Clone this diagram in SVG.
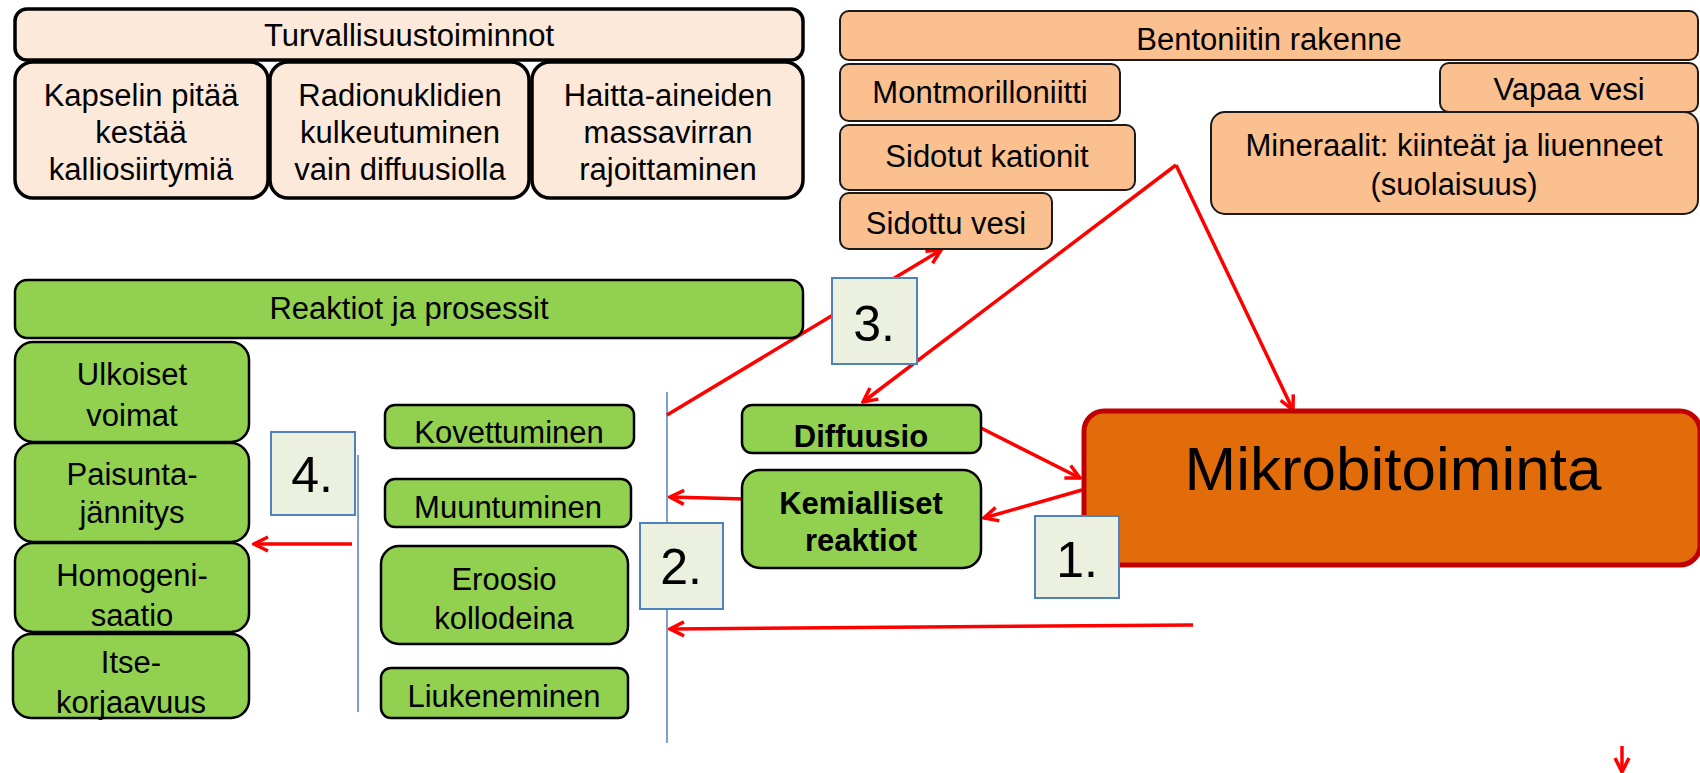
<svg xmlns="http://www.w3.org/2000/svg" width="1700" height="773" viewBox="0 0 1700 773">
<defs>
<style>
text{font-family:"Liberation Sans",Arial,sans-serif;fill:#000;text-anchor:middle}
.t{font-size:31px}
.b{font-size:31px;font-weight:bold}
.num{font-size:50px}
.big{font-size:62px}
.peach{fill:#FDE9D9;stroke:#000;stroke-width:3.5}
.tan{fill:#FAC090;stroke:#1a1a1a;stroke-width:2}
.grn{fill:#92D050;stroke:#000;stroke-width:2.5}
.nb{fill:#EBF1DE;stroke:#4F81BD;stroke-width:2}
.bl{stroke:#4F81BD;stroke-width:1.5;fill:none}
.ar{stroke:#FF0000;stroke-width:3.5;fill:none;marker-end:url(#ah)}
.ln{stroke:#FF0000;stroke-width:3.5;fill:none}
</style>
<marker id="ah" markerUnits="userSpaceOnUse" markerWidth="20" markerHeight="20" viewBox="0 0 20 20" refX="18" refY="10" orient="auto">
<path d="M4,3 L18,10 L4,17" fill="none" stroke="#FF0000" stroke-width="3.5"/>
</marker>
</defs>
<rect width="1700" height="773" fill="#fff"/>

<g id="blue-lines">
<line class="bl" x1="358" y1="455" x2="358" y2="712"/>
<line class="bl" x1="667" y1="392" x2="667" y2="743"/>
</g>

<g id="connectors">
<line class="ar" x1="1176" y1="165" x2="1293" y2="410"/>
<line class="ar" x1="1176" y1="165" x2="863" y2="402"/>
<line class="ar" x1="667" y1="415" x2="941" y2="250"/>
<line class="ar" x1="981" y1="428" x2="1080" y2="478"/>
<line class="ar" x1="1082" y1="490" x2="984" y2="518"/>
<line class="ar" x1="746" y1="499" x2="670" y2="497"/>
<line class="ar" x1="1193" y1="625" x2="670" y2="629"/>
<line class="ar" x1="352" y1="544" x2="254" y2="544"/>
<line class="ar" x1="1622" y1="746" x2="1622" y2="772"/>
</g>

<g id="turvallisuustoiminnot">
<rect class="peach" x="15" y="9" width="788" height="51" rx="12"/>
<text class="t" x="409" y="46">Turvallisuustoiminnot</text>
</g>
<g id="kapseli">
<rect class="peach" x="15" y="62" width="253" height="136" rx="18"/>
<text class="t" x="141" y="106">Kapselin pitää</text>
<text class="t" x="141" y="143">kestää</text>
<text class="t" x="141" y="180">kalliosiirtymiä</text>
</g>
<g id="radionuklidit">
<rect class="peach" x="270" y="62" width="259" height="136" rx="18"/>
<text class="t" x="400" y="106">Radionuklidien</text>
<text class="t" x="400" y="143">kulkeutuminen</text>
<text class="t" x="400" y="180">vain diffuusiolla</text>
</g>
<g id="haitta-aineet">
<rect class="peach" x="532" y="62" width="271" height="136" rx="18"/>
<text class="t" x="668" y="106">Haitta-aineiden</text>
<text class="t" x="668" y="143">massavirran</text>
<text class="t" x="668" y="180">rajoittaminen</text>
</g>

<g id="bentoniitin-rakenne">
<rect class="tan" x="840" y="11" width="858" height="49" rx="9"/>
<text class="t" x="1269" y="50">Bentoniitin rakenne</text>
</g>
<g id="montmorilloniitti">
<rect class="tan" x="840" y="64" width="280" height="57" rx="9"/>
<text class="t" x="980" y="103">Montmorilloniitti</text>
</g>
<g id="vapaa-vesi">
<rect class="tan" x="1440" y="63" width="258" height="49" rx="9"/>
<text class="t" x="1569" y="100">Vapaa vesi</text>
</g>
<g id="mineraalit">
<rect class="tan" x="1211" y="112" width="487" height="102" rx="14"/>
<text class="t" x="1454" y="156">Mineraalit: kiinteät ja liuenneet</text>
<text class="t" x="1454" y="195">(suolaisuus)</text>
</g>
<g id="sidotut-kationit">
<rect class="tan" x="840" y="125" width="295" height="65" rx="9"/>
<text class="t" x="987" y="167">Sidotut kationit</text>
</g>
<g id="sidottu-vesi">
<rect class="tan" x="840" y="193" width="212" height="56" rx="9"/>
<text class="t" x="946" y="234">Sidottu vesi</text>
</g>

<g id="reaktiot-ja-prosessit">
<rect class="grn" x="15" y="280" width="788" height="58" rx="12"/>
<text class="t" x="409" y="319">Reaktiot ja prosessit</text>
</g>
<g id="ulkoiset-voimat">
<rect class="grn" x="15" y="342" width="234" height="100" rx="18"/>
<text class="t" x="132" y="385">Ulkoiset</text>
<text class="t" x="132" y="426">voimat</text>
</g>
<g id="paisuntajannitys">
<rect class="grn" x="15" y="443" width="234" height="99" rx="18"/>
<text class="t" x="132" y="485">Paisunta-</text>
<text class="t" x="132" y="523">jännitys</text>
</g>
<g id="homogenisaatio">
<rect class="grn" x="15" y="543" width="234" height="89" rx="18"/>
<text class="t" x="132" y="586">Homogeni-</text>
<text class="t" x="132" y="626">saatio</text>
</g>
<g id="itsekorjaavuus">
<rect class="grn" x="13" y="634" width="236" height="84" rx="18"/>
<text class="t" x="131" y="673">Itse-</text>
<text class="t" x="131" y="713">korjaavuus</text>
</g>
<g id="kovettuminen">
<rect class="grn" x="385" y="405" width="249" height="43" rx="10"/>
<text class="t" x="509" y="443">Kovettuminen</text>
</g>
<g id="muuntuminen">
<rect class="grn" x="385" y="479" width="246" height="48" rx="10"/>
<text class="t" x="508" y="518">Muuntuminen</text>
</g>
<g id="eroosio">
<rect class="grn" x="381" y="546" width="247" height="98" rx="18"/>
<text class="t" x="504" y="590">Eroosio</text>
<text class="t" x="504" y="629">kollodeina</text>
</g>
<g id="liukeneminen">
<rect class="grn" x="381" y="668" width="247" height="50" rx="10"/>
<text class="t" x="504" y="707">Liukeneminen</text>
</g>
<g id="diffuusio">
<rect class="grn" x="742" y="405" width="239" height="48" rx="10"/>
<text class="b" x="861" y="447">Diffuusio</text>
</g>
<g id="kemialliset-reaktiot">
<rect class="grn" x="742" y="470" width="239" height="98" rx="18"/>
<text class="b" x="861" y="514">Kemialliset</text>
<text class="b" x="861" y="551">reaktiot</text>
</g>

<g id="mikrobitoiminta">
<rect x="1084" y="411" width="616" height="154" rx="20" fill="#E36C0A" stroke="#C00000" stroke-width="5"/>
<text class="big" x="1393" y="490">Mikrobitoiminta</text>
</g>

<g id="label-3">
<rect class="nb" x="832" y="278" width="85" height="86"/>
<text class="num" x="874" y="341">3.</text>
</g>
<g id="label-4">
<rect class="nb" x="271" y="432" width="84" height="83"/>
<text class="num" x="312" y="492">4.</text>
</g>
<g id="label-2">
<rect class="nb" x="640" y="523" width="83" height="86"/>
<text class="num" x="681" y="584">2.</text>
</g>
<g id="label-1">
<rect class="nb" x="1035" y="516" width="84" height="82"/>
<text class="num" x="1077" y="577">1.</text>
</g>
</svg>
